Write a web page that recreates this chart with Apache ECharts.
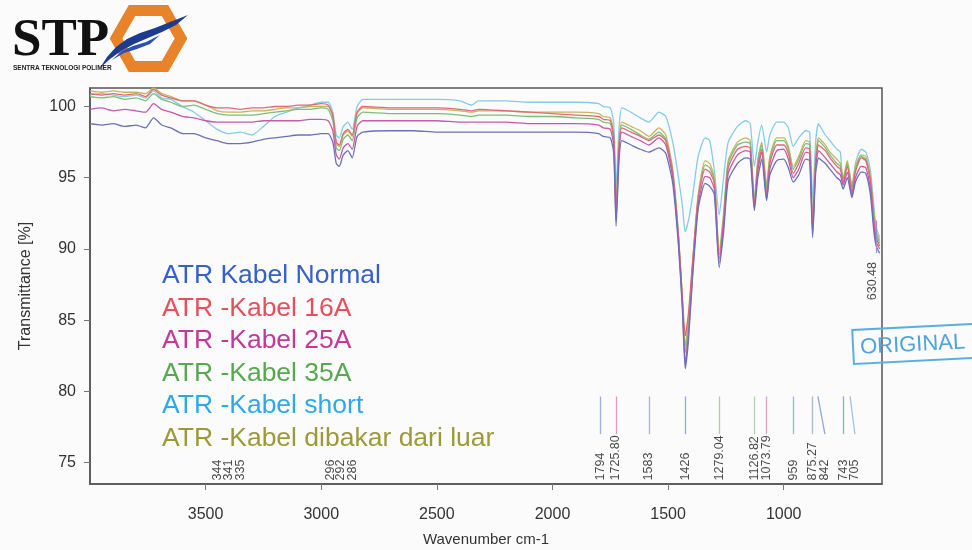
<!DOCTYPE html>
<html><head><meta charset="utf-8">
<script src="https://cdn.jsdelivr.net/npm/echarts@6/dist/echarts.min.js"></script>
<style>html,body{margin:0;padding:0;background:#fbfbfb;}#c{width:972px;height:550px;}</style>
</head><body><div id="c"></div>
<script>
const wavenumbers = [4000,3950,3900,3850,3800,3760,3725,3690,3650,3600,3550,3500,3450,3400,3350,3300,3250,3200,3150,3100,3050,3000,2970,2950,2935,2922,2905,2885,2866,2845,2820,2700,2600,2500,2400,2350,2320,2200,2100,2000,1900,1800,1780,1750,1735,1725,1712,1700,1660,1620,1583,1540,1510,1480,1455,1438,1426,1412,1395,1370,1340,1320,1300,1279,1260,1240,1200,1165,1145,1127,1112,1095,1074,1060,1030,1000,980,959,935,905,888,875,862,850,842,820,800,770,755,743,725,705,690,665,645,625,610,600,585];

const seriesNames = ['ATR Kabel Normal','ATR -Kabel 16A','ATR -Kabel 25A','ATR -Kabel 35A','ATR -Kabel short','ATR -Kabel dibakar dari luar'];

const kabelNormal = [98.8,98.7,98.8,98.6,98.7,98.5,99.2,98.7,98.5,98.1,98.1,97.8,97.6,97.4,97.4,97.5,97.7,97.8,97.9,98.0,98.0,98.1,98.1,97.5,96.0,95.8,96.6,96.9,96.4,97.9,98.2,98.3,98.3,98.2,98.2,98.2,98.2,98.2,98.2,98.2,98.2,98.1,97.9,97.8,96.7,91.6,96.3,97.6,97.3,97.0,96.8,97.1,96.7,94.6,90.2,85.7,81.6,83.6,87.8,92.8,94.6,94.4,93.8,88.7,91.2,94.8,96.0,96.4,96.3,92.7,95.0,96.3,93.4,95.2,96.2,96.3,95.7,94.7,95.2,96.3,96.2,90.8,95.3,96.4,96.3,96.0,95.6,95.0,94.8,94.2,95.0,93.6,94.7,95.4,95.3,93.8,91.2,90.2,89.7];

const kabel16A = [100.9,100.8,100.9,100.8,100.9,100.7,101.2,100.8,100.6,100.4,100.4,100.1,99.9,99.9,99.8,99.9,99.9,100.0,100.0,100.1,100.1,100.2,100.1,99.4,97.5,97.3,98.1,98.4,98.0,99.6,100.0,99.9,99.9,99.9,99.8,99.7,99.8,99.7,99.6,99.5,99.4,99.3,99.1,99.0,97.8,92.6,97.2,98.5,98.2,97.9,97.6,98.0,97.6,95.3,90.8,86.5,83.9,85.5,88.9,93.6,95.6,95.4,94.6,89.3,92.0,95.7,97.0,97.2,97.1,93.0,95.8,97.0,93.8,96.0,97.3,97.3,96.7,95.3,96.0,97.1,97.0,91.4,96.0,97.3,97.2,96.9,96.4,95.8,95.6,94.7,95.8,94.0,95.4,96.4,96.2,94.8,92.0,90.8,90.2];

const kabel25A = [99.8,99.9,99.7,99.8,99.7,99.6,100.2,99.8,99.6,99.3,99.2,99.0,98.9,98.9,98.9,98.9,99.0,99.0,99.0,99.0,99.1,99.1,99.0,98.3,96.6,96.3,97.1,97.4,97.0,98.6,99.0,99.0,99.0,99.0,98.9,98.9,98.9,98.9,98.8,98.8,98.8,98.7,98.5,98.4,97.2,92.0,96.8,98.2,97.9,97.6,97.3,97.8,97.3,95.0,90.5,86.0,82.0,84.0,88.1,93.1,95.1,95.0,94.2,89.0,91.6,95.3,96.6,96.9,96.8,92.9,95.5,96.8,93.5,95.6,96.9,97.0,96.3,95.0,95.6,96.8,96.7,91.1,95.7,96.9,96.8,96.4,96.0,95.4,95.2,94.5,95.4,93.7,95.0,95.8,95.7,94.2,91.6,90.5,90.0];

const kabel35A = [100.7,100.6,100.7,100.5,100.6,100.4,100.9,100.5,100.3,100.0,100.1,99.8,99.5,99.4,99.4,99.4,99.5,99.6,99.7,99.8,99.8,99.9,99.8,99.0,97.1,96.9,97.7,98.0,97.6,99.2,99.6,99.5,99.5,99.5,99.4,99.3,99.4,99.4,99.3,99.3,99.2,99.1,98.9,98.8,97.7,92.9,97.3,98.7,98.4,98.0,97.7,98.2,97.7,95.4,90.9,86.3,82.7,84.6,88.5,93.5,95.9,95.7,94.8,89.6,92.2,96.0,97.3,97.5,97.4,93.2,96.1,97.3,94.2,96.3,97.6,97.6,97.0,95.6,96.3,97.4,97.3,91.7,96.3,97.6,97.5,97.1,96.6,96.0,95.8,94.9,96.0,94.3,95.6,96.5,96.3,94.8,92.3,91.0,90.4];

const kabelShort = [100.8,100.9,100.8,100.7,100.8,100.6,101.1,100.6,100.5,100.0,99.6,99.0,98.4,98.1,98.2,98.0,98.6,99.3,99.6,99.9,100.1,100.3,100.3,99.6,98.0,97.8,98.6,98.9,98.4,100.0,100.5,100.5,100.5,100.5,100.4,100.1,100.4,100.4,100.3,100.3,100.3,100.2,100.0,99.9,98.8,94.4,98.5,99.9,99.6,99.2,98.9,99.6,99.3,97.5,95.0,93.0,91.2,92.0,93.6,96.5,97.8,97.6,95.5,92.4,95.0,97.5,98.6,99.0,98.8,95.8,97.5,98.7,96.8,98.0,98.9,98.9,98.5,97.2,97.8,98.3,98.2,93.5,97.5,98.8,98.6,98.0,97.6,97.0,96.8,94.4,96.0,93.8,96.0,97.0,96.8,95.5,93.0,91.5,90.8];

const kabelDibakar = [101.1,101.0,101.1,101.0,101.0,100.9,101.3,100.9,100.7,100.4,100.4,100.1,99.7,99.6,99.6,99.7,99.7,99.8,99.9,99.9,100.0,100.0,100.0,99.3,97.4,97.2,98.0,98.3,97.9,99.5,99.9,99.8,99.8,99.8,99.7,99.6,99.7,99.7,99.6,99.6,99.6,99.5,99.3,99.2,98.0,93.2,97.5,98.9,98.6,98.3,97.9,98.5,98.0,95.6,91.0,86.5,83.2,85.0,88.8,93.8,96.2,96.0,95.0,89.9,92.5,96.2,97.5,97.8,97.6,93.5,96.3,97.5,94.5,96.5,97.8,97.8,97.2,95.8,96.5,97.6,97.5,92.0,96.5,97.8,97.7,97.3,96.8,96.3,96.0,95.0,96.2,94.5,95.8,96.6,96.5,95.0,92.5,91.2,90.6];

const xTickValues = [3500,3000,2500,2000,1500,1000];
const yTickValues = [75,80,85,90,95,100];

// peak annotations (upper spectrum bands, labels only)
const ohLabelText = ['344','341','335','296','292','286'];
const ohLabelWn = [3450,3400,3350,2960,2915,2866];
// marked peaks with small tick lines
const markedText = ['1794','1725.80','1583','1426','1279.04','1126.82','1073.79','959','875.27','842','743','705'];
const markedTopWn = [1794,1725.80,1583,1426,1279.04,1126.82,1073.79,959,875.27,852,743,713];
const markedLabelWn = [1794,1725.80,1583,1426,1279.04,1126.82,1073.79,959,875.27,822,743,692];
const endPeakText = ['630.48'];
const endPeakLabelWn = [618];
const endPeakLineWn = [598];

// styles
const lineColors = {
  'ATR Kabel Normal':'#6a70b8',
  'ATR -Kabel 16A':'#e06a74',
  'ATR -Kabel 25A':'#c75aa6',
  'ATR -Kabel 35A':'#7cbd7a',
  'ATR -Kabel short':'#86cbe6',
  'ATR -Kabel dibakar dari luar':'#c9b45e'
};
const legendColors = {
  'ATR Kabel Normal':'#3460c8',
  'ATR -Kabel 16A':'#e5505c',
  'ATR -Kabel 25A':'#c23a96',
  'ATR -Kabel 35A':'#58a852',
  'ATR -Kabel short':'#30a8e6',
  'ATR -Kabel dibakar dari luar':'#9c9a38'
};
const markColors = ['#9db3d6','#d99ac8','#a9b6cc','#8fa9dc','#b9c7ae','#b5d3ae','#dba3cb','#9fb6e0','#a9bdd2','#8ea9d8','#8ea9d8','#a5c2e0'];

const valuesByName = {
  'ATR Kabel Normal':kabelNormal,
  'ATR -Kabel 16A':kabel16A,
  'ATR -Kabel 25A':kabel25A,
  'ATR -Kabel 35A':kabel35A,
  'ATR -Kabel short':kabelShort,
  'ATR -Kabel dibakar dari luar':kabelDibakar
};
const drawOrder = ['ATR -Kabel short','ATR -Kabel dibakar dari luar','ATR -Kabel 35A','ATR -Kabel 16A','ATR -Kabel 25A','ATR Kabel Normal'];

const FONT = '"Liberation Sans", Arial, sans-serif';
const chart = echarts.init(document.getElementById('c'), null, {renderer:'canvas'});

const lineSeries = drawOrder.map(name => ({
  name, type:'line', showSymbol:false, smooth:0.2, z:3,
  lineStyle:{width:1.3, color:lineColors[name]},
  itemStyle:{color:lineColors[name]},
  data: wavenumbers.map((w,i)=>[w, valuesByName[name][i]])
}));

const LABEL_BASE = 73.75;
const annoSeries = {
  name:'peaks', type:'scatter', symbolSize:0, silent:true, z:4,
  data: [
    ...ohLabelWn.map((w,i)=>({value:[w,LABEL_BASE], txt:ohLabelText[i]})),
    ...markedLabelWn.map((w,i)=>({value:[w,LABEL_BASE], txt:markedText[i]})),
    ...endPeakLabelWn.map((w,i)=>({value:[w,86.4], txt:endPeakText[i]}))
  ],
  label:{show:true, position:'inside', rotate:90, align:'left', verticalAlign:'middle',
    fontSize:12.5, color:'#1a1a1a', fontFamily:FONT,
    formatter: p => p.data.txt},
  markLine:{
    silent:true, symbol:['none','none'], animation:false,
    label:{show:false},
    data:[
      ...markedTopWn.map((w,i)=>[{coord:[w,79.65], lineStyle:{color:markColors[i], width:1.3, type:'solid'}},{coord:[markedLabelWn[i],77.0]}]),
      ...endPeakLineWn.map(w=>[{coord:[w,92.0], lineStyle:{color:'#9a90c8', width:1.2, type:'solid'}},{coord:[w,89.7]}])
    ]
  }
};

const option = {
  backgroundColor:'#fbfbfb',
  animation:false,
  grid:{left:90, right:90, top:88, bottom:66, outerBoundsMode:'none', containLabel:false, show:true, borderColor:'#555', borderWidth:1.5, backgroundColor:'transparent'},
  legend:{
    orient:'vertical', left:152, top:256, icon:'none', itemWidth:0, itemHeight:20, itemGap:2.5,
    selectedMode:false,
    textStyle:{fontSize:26.5, fontFamily:FONT, lineHeight:30},
    data: seriesNames.map(n=>({name:n, textStyle:{color:legendColors[n], fontSize:26.5, fontFamily:FONT}}))
  },
  xAxis:{
    type:'value', inverse:true, min:575, max:4000,
    name:'Wavenumber cm-1', nameLocation:'middle', nameGap:48,
    nameTextStyle:{fontSize:15, color:'#333', fontFamily:FONT},
    axisLine:{show:true, lineStyle:{color:'#555', width:1.5}},
    axisTick:{show:true, inside:false, length:6, customValues:xTickValues, lineStyle:{color:'#777'}},
    axisLabel:{customValues:xTickValues, fontSize:16, color:'#333', margin:23, fontFamily:FONT, formatter: v => String(v)},
    splitLine:{show:false}
  },
  yAxis:{
    type:'value', min:73.5, max:101.3,
    name:'Transmittance [%]', nameLocation:'middle', nameGap:56, nameRotate:90,
    nameTextStyle:{fontSize:16, color:'#333', fontFamily:FONT},
    axisLine:{show:true, lineStyle:{color:'#555', width:1.5}},
    axisTick:{show:true, inside:false, length:6, customValues:yTickValues, lineStyle:{color:'#777'}},
    axisLabel:{customValues:yTickValues, fontSize:16, color:'#333', margin:14, fontFamily:FONT, formatter: v => String(v)},
    splitLine:{show:false}
  },
  series:[...lineSeries, annoSeries],
  graphic:[
    {type:'text', style:{text:'STP', x:12, y:41, fill:'#111', fontSize:53, fontWeight:'bold', fontFamily:'"Liberation Serif", "DejaVu Serif", serif', verticalAlign:'middle'}},
    {type:'polygon', shape:{points:[[181,38.5],[165,10.5],[132,10.5],[116,38.5],[132,66.5],[165,66.5]]}, style:{fill:'none', stroke:'#e8832a', lineWidth:11, lineJoin:'miter'}},
    {type:'polygon', shape:{points:[[100,68],[107,57],[116,47],[127,39],[140,33],[155,28],[170,22],[188,15],[176,25],[162,32],[148,38],[134,44],[121,51],[110,59]]}, style:{fill:'#1d3c8f'}},
    {type:'polygon', shape:{points:[[112,60],[122,51],[133,46],[146,42],[160,35],[150,44],[137,49],[124,53]]}, style:{fill:'#2a52b0'}},
    {type:'text', style:{text:'SENTRA TEKNOLOGI POLIMER', x:13, y:68, fill:'#222', fontSize:6.5, fontWeight:'bold', fontFamily:FONT, verticalAlign:'middle'}},
    {type:'group', x:912, y:344, rotation:0.05, children:[
      {type:'rect', shape:{x:-59, y:-17, width:130, height:34}, style:{fill:'none', stroke:'#5aaee0', lineWidth:2}},
      {type:'text', style:{text:'ORIGINAL', x:-52, y:1, fill:'#4fa4da', fontSize:22, fontFamily:FONT, verticalAlign:'middle'}}
    ]}
  ]
};
chart.setOption(option);
</script>
</body></html>
